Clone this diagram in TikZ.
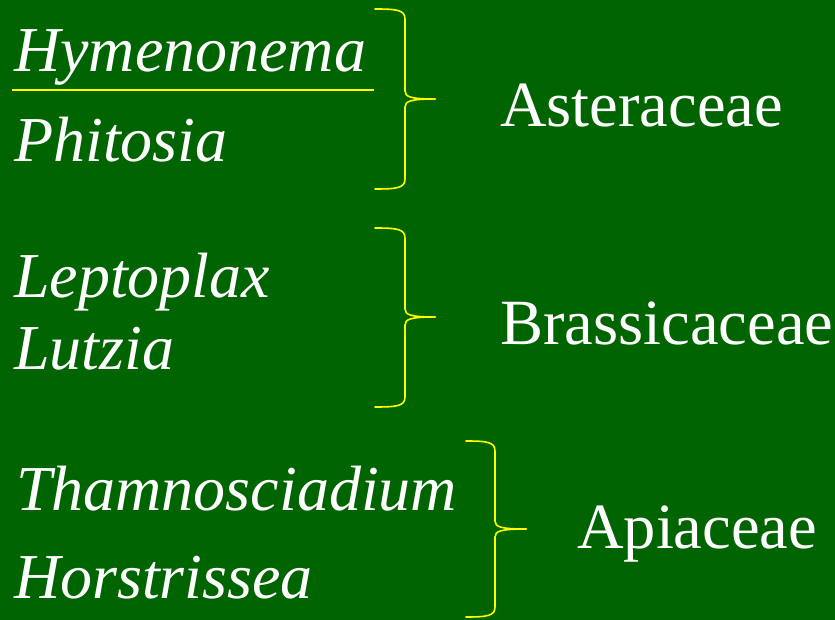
\documentclass[tikz,border=0pt]{standalone}
\usepackage{fontspec}
\setmainfont{LiberationSerif}[Extension=.ttf,UprightFont=*-Regular,ItalicFont=*-Italic,BoldFont=*-Bold,BoldItalicFont=*-BoldItalic]
\definecolor{bg}{HTML}{006400}
\definecolor{brc}{HTML}{FFFF00}
\newcommand\famBrace[6]{%
  % #1 left x, #2 vertical x, #3 tip x, #4 top y, #5 mid y, #6 bottom y
  \draw[bracestyle] (#1,#4) .. controls ({#2-8},#4) and (#2,{#4+1}) .. (#2,{#4+10})
    -- (#2,{#5-8}) .. controls (#2,{#5-2}) and ({#2+6},#5) .. (#3,#5);
  \draw[bracestyle] (#3,#5) .. controls ({#2+6},#5) and (#2,{#5+2}) .. (#2,{#5+8})
    -- (#2,{#6-10}) .. controls (#2,{#6-1}) and ({#2-8},#6) .. (#1,#6);
}
\begin{document}
\begin{tikzpicture}[x=1pt,y=-1pt,
  genus/.style={anchor=base west,inner sep=0pt,text=white,font=\fontsize{64}{70}\selectfont\itshape},
  family/.style={anchor=base west,inner sep=0pt,text=white,font=\fontsize{64.5}{70}\selectfont},
  bracestyle/.style={draw=brc,line width=1.6pt,line cap=round}]
\fill[bg] (0,0) rectangle (835,620);
\useasboundingbox (0,0) rectangle (835,620);
\node[genus] (hym) at (14,72) {Hymenonema};
\node[genus] (phi) at (14,162) {Phitosia};
\node[genus] (lep) at (14,298) {Leptoplax};
\node[genus] (lut) at (14,369) {Lutzia};
\node[genus] (tha) at (16,510) {Thamnosciadium};
\node[genus] (hor) at (14,598) {Horstrissea};
\node[family] (ast) at (500,127) {Asteraceae};
\node[family] (bra) at (500,344) {Brassicaceae};
\node[family] (api) at (577,548) {Apiaceae};
\coordinate (ul) at (12,90);
\coordinate (ur) at (374,90);
\draw[draw=brc,line width=1.8pt] (ul) -- (ur);
\famBrace{375}{405}{435}{9}{99}{189}
\famBrace{375}{405}{435}{228}{317}{407}
\famBrace{466}{495}{526}{441}{529}{617}
\end{tikzpicture}
\end{document}
